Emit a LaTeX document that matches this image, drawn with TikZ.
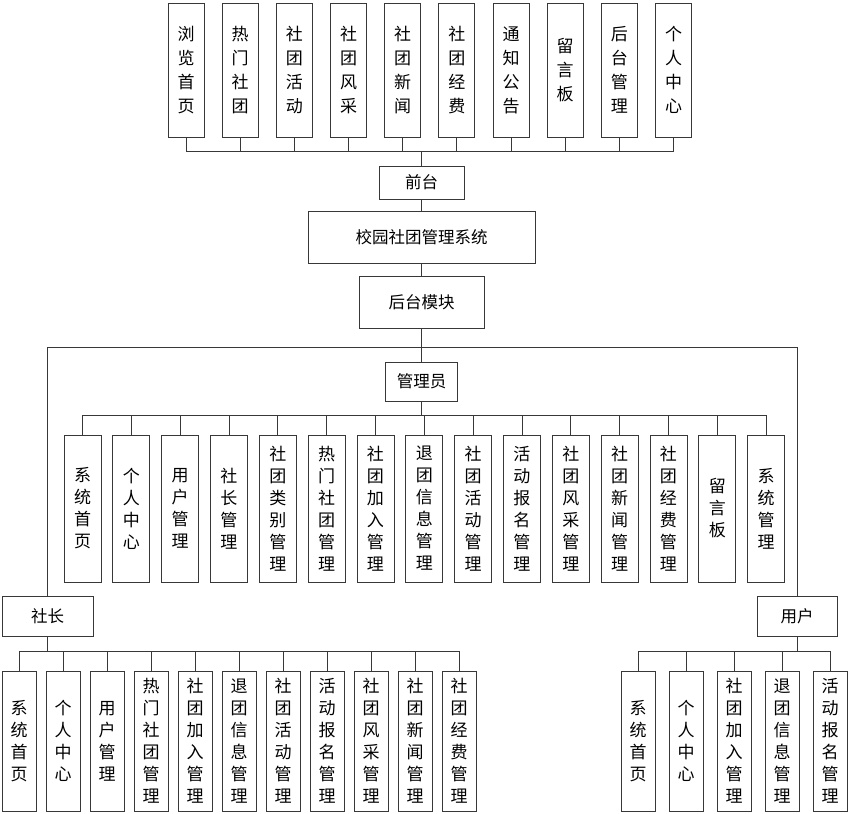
\documentclass[tikz,border=0pt]{standalone}
\usepackage{fontspec}
\newfontfamily\cjk{Noto Sans CJK SC}
\begin{document}
\begin{tikzpicture}[x=1pt,y=-1pt,
  line/.style={draw=black!78, line width=0.9pt},
  box/.style={draw=black!78, line width=0.9pt, fill=white, inner sep=0pt, align=center, font=\cjk\fontsize{17}{22}\selectfont},
  hbox/.style={box, font=\cjk\fontsize{16.5}{20}\selectfont},
  topbox/.style={box, minimum width=36pt, minimum height=134pt, font=\cjk\fontsize{17}{24}\selectfont},
  adminbox/.style={box, minimum width=37pt, minimum height=147pt},
  leafbox/.style={box, minimum width=34pt, minimum height=140pt}]
\useasboundingbox (0,0) rectangle (850,813);
\fill[white] (0,0) rectangle (850,813);
% top row
\foreach \t [count=\i] in {{浏\\览\\首\\页},{热\\门\\社\\团},{社\\团\\活\\动},{社\\团\\风\\采},{社\\团\\新\\闻},{社\\团\\经\\费},{通\\知\\公\\告},{留\\言\\板},{后\\台\\管\\理},{个\\人\\中\\心}}
  \node[topbox] (t\i) at ({186+54.17*(\i-1)},70) {\t};
\node[hbox, minimum width=85pt, minimum height=33pt] (qt) at (421.5,182.5) {前台};
\node[hbox, minimum width=227pt, minimum height=52pt] (sys) at (421.5,237) {校园社团管理系统};
\node[hbox, minimum width=125pt, minimum height=52pt] (hm) at (421.5,302) {后台模块};
\node[hbox, minimum width=72pt, minimum height=39pt] (gly) at (421.5,381.5) {管理员};
% admin row
\foreach \t [count=\i] in {{系\\统\\首\\页},{个\\人\\中\\心},{用\\户\\管\\理},{社\\长\\管\\理},{社\\团\\类\\别\\管\\理},{热\\门\\社\\团\\管\\理},{社\\团\\加\\入\\管\\理},{退\\团\\信\\息\\管\\理},{社\\团\\活\\动\\管\\理},{活\\动\\报\\名\\管\\理},{社\\团\\风\\采\\管\\理},{社\\团\\新\\闻\\管\\理},{社\\团\\经\\费\\管\\理},{留\\言\\板},{系\\统\\管\\理}}
  \node[adminbox] (a\i) at ({82.5+48.83*(\i-1)},508.5) {\t};
\node[hbox, minimum width=91pt, minimum height=40pt] (sz) at (47.5,616) {社长};
\node[hbox, minimum width=80pt, minimum height=40pt] (yh) at (797,616) {用户};
% bottom left
\foreach \t [count=\i] in {{系\\统\\首\\页},{个\\人\\中\\心},{用\\户\\管\\理},{热\\门\\社\\团\\管\\理},{社\\团\\加\\入\\管\\理},{退\\团\\信\\息\\管\\理},{社\\团\\活\\动\\管\\理},{活\\动\\报\\名\\管\\理},{社\\团\\风\\采\\管\\理},{社\\团\\新\\闻\\管\\理},{社\\团\\经\\费\\管\\理}}
  \node[leafbox] (l\i) at ({19+44*(\i-1)},741) {\t};
% bottom right
\foreach \t [count=\i] in {{系\\统\\首\\页},{个\\人\\中\\心},{社\\团\\加\\入\\管\\理},{退\\团\\信\\息\\管\\理},{活\\动\\报\\名\\管\\理}}
  \node[leafbox] (r\i) at ({638+48*(\i-1)},741) {\t};
% connectors
\coordinate (topbus) at (421.5,151);
\foreach \i in {1,...,10} \draw[line] (t\i.south) |- (topbus);
\draw[line] (topbus) -- (qt.north);
\draw[line] (qt.south) -- (sys.north);
\draw[line] (sys.south) -- (hm.north);
\coordinate (bigbus) at (421.5,347);
\draw[line] (hm.south) -- (bigbus);
\draw[line] (bigbus) -| (sz.north);
\draw[line] (bigbus) -| (yh.north);
\draw[line] (bigbus) -- (gly.north);
\coordinate (abus) at (421.5,415);
\draw[line] (gly.south) -- (abus);
\foreach \i in {1,...,15} \draw[line] (a\i.north) |- (abus);
\coordinate (lbus) at (47.5,651);
\draw[line] (sz.south) -- (lbus);
\foreach \i in {1,...,11} \draw[line] (l\i.north) |- (lbus);
\coordinate (rbus) at (797,651);
\draw[line] (yh.south) -- (rbus);
\foreach \i in {1,...,5} \draw[line] (r\i.north) |- (rbus);
\end{tikzpicture}
\end{document}
